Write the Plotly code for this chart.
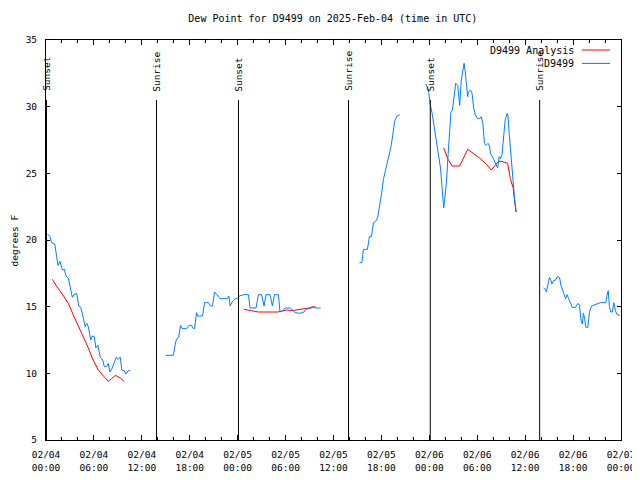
import pandas as pd
import plotly.graph_objects as go

START = pd.Timestamp("2025-02-04 00:00")

# Observations (D9499): hours since 2025-02-04 00:00 UTC, None = data gap
obs_hours = [
    0.2, 0.5, 0.7, 1.1, 1.3, 1.5, 1.75, 2.05, 2.3, 2.5, 2.8, 3.0, 3.3, 3.5, 3.85, 4.1, 4.35, 4.7, 4.9,
    5.1, 5.3, 5.6, 5.8, 6.05, 6.25, 6.5, 6.8, 7.1, 7.3, 7.6, 7.8, 8.0, 8.3, 8.5, 8.8, 9.0, 9.3, 9.5,
    9.8, 10.0, 10.3, 10.55, None,
    15.0, 15.95, 16.25, 16.4, 16.6, 16.85, 17.05, 17.6, 17.9, 18.2, 18.45, 18.6, 18.85, 19.0, 19.6,
    19.85, 20.35, 20.6, 20.85, 21.1, 21.4, 21.8, 22.7, 22.9, 23.05, 23.35, 23.7, 24.0, 24.2, 24.75,
    25.35, 25.55, 26.3, 26.6, 27.0, 27.3, 27.55, 28.05, 28.35, 28.6, 29.1, 29.3, 29.65, 29.95, 30.6,
    30.9, 31.2, 31.8, 32.3, 32.55, 33.1, 33.5, 33.9, 34.4, None,
    39.25, 39.55, 39.75, 40.25, 40.5, 40.75, 41.0, 41.35, 41.55, 41.85, 42.05, 42.25, 42.5, 42.75,
    42.95, 43.2, 43.45, 43.65, 43.95, 44.3, None,
    47.55, 47.8, 47.95, 48.1, 48.35, 48.55, 48.75, 48.95, 49.15, 49.4, 49.6, 49.8, 49.9, 50.15, 50.35,
    50.55, 50.7, 50.9, 51.1, 51.3, 51.55, 51.8, 52.0, 52.2, 52.35, 52.5, 52.6, 52.8, 52.9, 53.15,
    53.35, 53.55, 53.75, 54.05, 54.3, 54.5, 54.7, 54.9, 55.1, 55.35, 55.5, 55.7, 55.9, 56.15, 56.4,
    56.55, 56.75, 56.9, 57.1, 57.3, 57.5, 57.75, 57.85, 58.0, 58.2, 58.35, 58.5, 58.7, 58.9, None,
    62.3, 62.55, 62.65, 62.85, 63.05, 63.25, 63.35, 63.55, 63.8, 64.05, 64.3, 64.5, 64.65, 64.8,
    65.05, 65.25, 65.45, 65.65, 65.9, 66.3, 66.6, 66.8, 67.0, 67.15, 67.3, 67.45, 67.6, 67.85, 68.05,
    68.3, 68.65, 69.0, 69.4, 70.1, 70.25, 70.4, 70.55, 70.7, 70.9, 71.1, 71.3, 71.5, 71.85,
]
obs_dewpt = [
    20.45, 20.25, 19.8, 19.7, 18.9, 18.1, 18.4, 17.75, 17.8, 17.3, 17.15, 16.5, 15.7, 15.9, 16.0, 15.05,
    14.95, 14.1, 13.5, 13.75, 13.5, 12.5, 12.8, 12.75, 11.9, 12.1, 11.2, 11.0, 10.5, 10.5, 10.75, 10.1,
    10.4, 10.75, 11.2, 11.05, 11.2, 10.25, 10.2, 9.95, 10.2, 10.2, None,
    11.35, 11.35, 12.4, 12.6, 12.7, 13.6, 13.35, 13.35, 13.6, 13.6, 13.35, 13.35, 14.55, 14.3, 14.3,
    15.3, 15.3, 15.05, 15.05, 16.1, 15.9, 15.6, 15.6, 15.8, 15.05, 15.4, 15.6, 15.6, 15.8, 15.9, 15.9,
    14.9, 14.9, 15.9, 15.9, 15.05, 15.9, 15.9, 15.05, 15.9, 15.9, 14.6, 14.7, 14.9, 14.9, 14.7, 14.55,
    14.5, 14.6, 14.8, 14.9, 14.95, 14.9, 14.9, None,
    18.3, 18.3, 19.3, 19.3, 20.25, 20.25, 21.3, 21.45, 21.75, 22.75, 23.6, 24.55, 25.2, 25.6, 26.3,
    27.0, 28.0, 28.9, 29.3, 29.4, None,
    31.7, 31.4, 31.0, 30.2, 29.5, 28.75, 28.0, 27.25, 26.4, 25.4, 23.9, 22.4, 22.9, 24.4, 26.4, 28.4,
    29.6, 29.75, 30.9, 31.75, 31.6, 30.1, 32.0, 32.75, 33.25, 32.6, 31.75, 30.75, 31.1, 31.25, 31.0,
    29.9, 29.4, 29.1, 29.1, 29.25, 28.75, 27.25, 27.1, 27.25, 27.1, 26.4, 26.25, 25.9, 25.6, 25.4,
    26.25, 26.1, 26.4, 27.6, 29.0, 29.5, 29.3, 28.0, 26.6, 25.1, 23.9, 22.9, 22.1, None,
    16.4, 16.3, 16.1, 16.75, 17.2, 16.95, 16.7, 16.95, 17.0, 17.25, 17.2, 16.55, 16.2, 16.05, 15.6,
    15.9, 15.6, 15.25, 14.95, 14.95, 15.25, 15.1, 13.95, 13.7, 14.5, 14.1, 13.45, 13.45, 14.6, 15.05,
    15.1, 15.2, 15.3, 15.3, 15.85, 16.2, 15.0, 14.6, 14.6, 15.3, 14.7, 14.4, 14.35,
]

# Analysis (D9499 Analysis)
ana_hours = [
    0.8, 1.3, 2.2, 2.8, 3.4, 4.05, 4.7, 5.3, 5.9, 6.55, 7.2, 7.8, 8.2, 8.7, 9.3, 9.8, None,
    24.8, 25.35, 26.0, 26.6, 29.0, 29.55, 30.15, 30.8, 31.4, 32.25, 32.9, 33.4, 33.8, None,
    49.8, 50.3, 50.85, 51.8, 52.8, 53.55, 54.4, 55.2, 55.75, 56.25, 56.65, 57.1, 57.8, 58.15, 58.5,
    58.65, 58.85,
]
ana_dewpt = [
    17.05, 16.55, 15.8, 15.25, 14.4, 13.55, 12.75, 11.9, 11.0, 10.25, 9.8, 9.4, 9.6, 9.85, 9.65, 9.4, None,
    14.8, 14.75, 14.7, 14.6, 14.6, 14.65, 14.75, 14.7, 14.75, 14.8, 14.9, 15.0, 14.95, None,
    26.9, 26.1, 25.55, 25.55, 26.8, 26.5, 26.1, 25.65, 25.25, 25.6, 25.9, 25.9, 25.75, 24.6, 23.9,
    23.1, 22.1,
]

sun_times = ["2025-02-04 00:04", "2025-02-04 13:50", "2025-02-05 00:06",
             "2025-02-05 13:53", "2025-02-06 00:07", "2025-02-06 13:49"]
sun_labels = ["Sunset", "Sunrise", "Sunset", "Sunrise", "Sunset", "Sunrise"]

series_names = ["D9499 Analysis", "D9499"]
series_colors = ["#ff0000", "#0080ff"]

y_ticks = [5, 10, 15, 20, 25, 30, 35]


def to_time(hours):
    return [None if h is None else START + pd.Timedelta(hours=h) for h in hours]


FONT = "DejaVu Sans Mono"
fig = go.Figure()
fig.add_trace(go.Scatter(x=to_time(ana_hours), y=ana_dewpt, mode="lines",
                         name=series_names[0], line=dict(color=series_colors[0], width=1),
                         connectgaps=False, showlegend=False))
fig.add_trace(go.Scatter(x=to_time(obs_hours), y=obs_dewpt, mode="lines",
                         name=series_names[1], line=dict(color=series_colors[1], width=1),
                         connectgaps=False, showlegend=False))

for t, lab in zip(sun_times, sun_labels):
    fig.add_shape(type="line", xref="x", yref="y", x0=t, x1=t, y0=30.5, y1=5,
                  line=dict(color="black", width=1))
    fig.add_annotation(x=t, y=31, xref="x", yref="y", text=lab, textangle=-90,
                       showarrow=False, xanchor="center", yanchor="bottom",
                       font=dict(family=FONT, size=9.5, color="black"))

# gnuplot-style key: right-aligned text with the line sample to its right
for i, (nm, col) in enumerate(zip(series_names, series_colors)):
    ky = 0.975 - i * 0.0335
    fig.add_annotation(x=0.921, y=ky, xref="paper", yref="paper", text=nm,
                       showarrow=False, xanchor="right", yanchor="middle",
                       font=dict(family=FONT, size=10, color="black"))
    fig.add_shape(type="line", xref="paper", yref="paper", x0=0.932, x1=0.981,
                  y0=ky, y1=ky, line=dict(color=col, width=1))

fig.add_annotation(x=-0.055, y=0.5, xref="paper", yref="paper", text="degrees F",
                   textangle=-90, showarrow=False, xanchor="center", yanchor="middle",
                   borderpad=0, font=dict(family=FONT, size=9.5, color="black"))

fig.update_layout(
    width=632, height=472,
    margin=dict(l=38, r=19, t=32, b=40, autoexpand=False),
    paper_bgcolor="white", plot_bgcolor="white",
    font=dict(family=FONT, size=9.5, color="black"),
    title=dict(text="Dew Point for D9499 on 2025-Feb-04 (time in UTC)", x=0.514,
               xref="container", xanchor="center", y=0.977, yanchor="middle",
               font=dict(family=FONT, size=10, color="black")),
    showlegend=False,
)
fig.update_xaxes(
    range=["2025-02-04 00:00", "2025-02-07 00:00"], automargin=False,
    tick0="2025-02-04 00:00", dtick=6 * 3600 * 1000, tickformat="%m/%d<br>%H:%M",
    ticks="inside", ticklen=5, tickcolor="black", showline=True, linecolor="black",
    linewidth=1, mirror="allticks", showgrid=False, zeroline=False, ticklabelstandoff=6,
    minor=dict(dtick=2 * 3600 * 1000, ticks="inside", ticklen=3, tickcolor="black", showgrid=False),
)
fig.update_yaxes(
    range=[5, 35], tickvals=y_ticks, ticks="inside", ticklen=4, tickcolor="black",
    showline=True, linecolor="black", linewidth=1, mirror="allticks", showgrid=False,
    zeroline=False, automargin=False, ticklabelstandoff=6,
)
fig.write_html("out.html")
